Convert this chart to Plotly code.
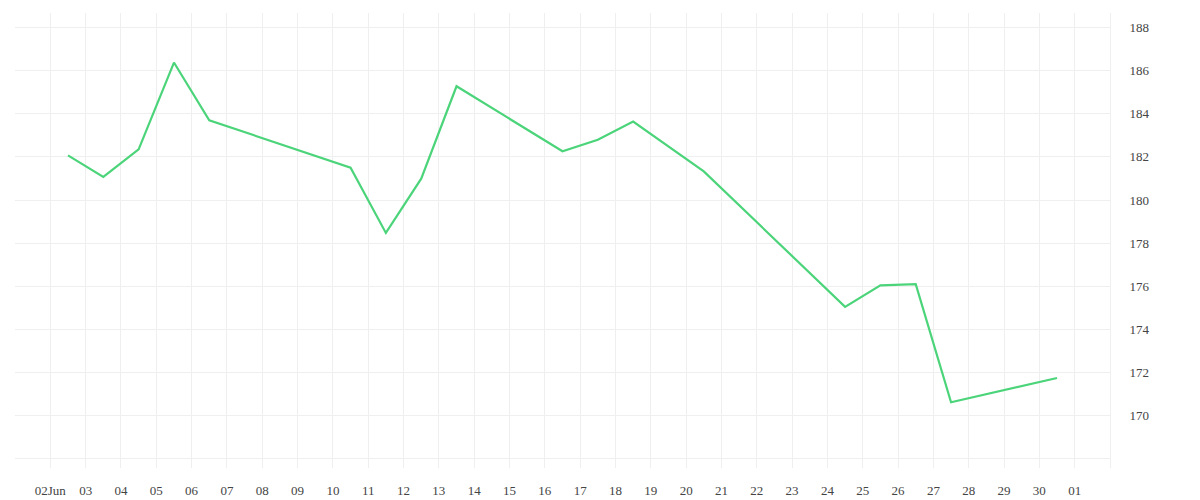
import plotly.graph_objects as go
import datetime as dt

dates = ["2023-06-02", "2023-06-03", "2023-06-04", "2023-06-05", "2023-06-06",
         "2023-06-10", "2023-06-11", "2023-06-12", "2023-06-13", "2023-06-16",
         "2023-06-17", "2023-06-18", "2023-06-20", "2023-06-24", "2023-06-25",
         "2023-06-26", "2023-06-27", "2023-06-30"]
values = [182.07, 181.07, 182.35, 186.38, 183.70,
          181.50, 178.47, 180.99, 185.28, 182.26,
          182.80, 183.64, 181.33, 175.04, 176.04,
          176.09, 170.61, 171.74]

y_ticks = [168, 170, 172, 174, 176, 178, 180, 182, 184, 186, 188]
y_tick_text = ["", "170", "172", "174", "176", "178", "180", "182", "184", "186", "188"]

start = dt.datetime(2023, 6, 1)
x_ticks = [start + dt.timedelta(days=i) for i in range(32)]
x_tick_text = [""] + ["02Jun"] + ["%02d" % d for d in range(3, 31)] + ["01", ""]

x_pts = [dt.datetime.strptime(d, "%Y-%m-%d") + dt.timedelta(hours=12) for d in dates]

grid = "#efefef"
font_fam = "Liberation Serif, DejaVu Serif, serif"

fig = go.Figure()
fig.add_trace(go.Scatter(
    x=x_pts, y=values, mode="lines",
    line=dict(color="#4cd47a", width=2.2),
    showlegend=False,
))

fig.update_layout(
    width=1200, height=500,
    margin=dict(l=7, r=98, t=5, b=40, pad=0),
    paper_bgcolor="white", plot_bgcolor="white",
    font=dict(family=font_fam, size=13, color="#444"),
    xaxis=dict(
        type="date",
        range=[start, start + dt.timedelta(days=31)],
        tickmode="array", tickvals=x_ticks, ticktext=x_tick_text,
        showgrid=True, gridcolor=grid, gridwidth=1,
        showline=False, zeroline=False,
        ticks="outside", ticklen=10, tickcolor="rgba(0,0,0,0)",
        tickfont=dict(family=font_fam, size=13, color="#444"),
    ),
    yaxis=dict(
        side="right",
        range=[167.56, 188.68],
        tickmode="array", tickvals=y_ticks, ticktext=y_tick_text,
        showgrid=True, gridcolor=grid, gridwidth=1,
        showline=True, linecolor=grid, linewidth=1,
        zeroline=False,
        ticks="outside", ticklen=16, tickcolor="rgba(0,0,0,0)",
        tickfont=dict(family=font_fam, size=13, color="#444"),
    ),
)

fig.write_html("out.html")
